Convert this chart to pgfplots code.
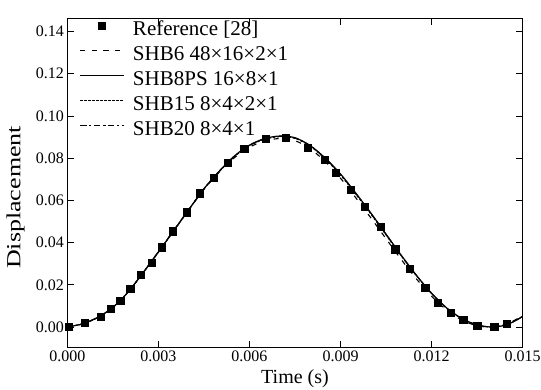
\documentclass[border=0pt]{standalone}
\usepackage{graphicx}
\usepackage{pgfplots}
\pgfplotsset{compat=1.18}
\usepackage{fontspec}
\setmainfont{Liberation Serif}
\begin{document}
\begin{tikzpicture}
\begin{axis}[
  scale only axis,
  width=455.4pt, height=329.4pt,
  xmin=0, xmax=0.015, ymin=-0.0098, ymax=0.1463,
  xtick={0,0.003,0.006,0.009,0.012,0.015},
  ytick={0,0.02,0.04,0.06,0.08,0.10,0.12,0.14},
  scaled ticks=false,
  x tick label style={/pgf/number format/.cd, fixed, fixed zerofill, precision=3},
  y tick label style={/pgf/number format/.cd, fixed, fixed zerofill, precision=2},
  /pgf/number format/assume math mode=true,
  tick label style={font=\fontsize{16}{19}\selectfont},
  xlabel={Time (s)}, ylabel={\scalebox{1.3}[1]{Displacement}},
  xlabel style={font=\fontsize{20}{24}\selectfont, anchor=center, at={(axis description cs:0.5,-0.095)}},
  ylabel style={font=\fontsize{20}{24}\selectfont, anchor=center, at={(axis description cs:-0.1137,0.456)}},
  tick align=inside, tick pos=both, major tick length=7pt,
  every tick/.style={black, line width=0.9pt},
  axis line style={line width=1.3pt},
  clip mode=individual,
  legend style={draw=none, fill=none, inner sep=0pt, outer sep=0pt,
    at={(axis description cs:0.0,1.0)}, anchor=north west, xshift=12.5pt, yshift=-3.4pt,
    font=\fontsize{21}{25}\selectfont, row sep=7pt,
    nodes={inner sep=0pt, outer sep=0pt, text height=14pt, text depth=4pt},
    /tikz/every odd column/.append style={column sep=9pt}},
  legend cell align=left,
  legend image code/.code={\draw[#1,mark repeat=2,mark phase=2] plot coordinates {(0pt,5pt) (21.5pt,5pt) (43pt,5pt)};},
]
\addplot[only marks, mark=square*, mark size=3.6pt, black] coordinates {
(0.00005,0) (0.00056,0.0020) (0.0011,0.0050) (0.00144,0.0088) (0.00174,0.0126)
(0.00207,0.0181) (0.00242,0.0247) (0.00278,0.0306) (0.00312,0.0378) (0.00347,0.0454)
(0.00393,0.0544) (0.00435,0.0634) (0.00481,0.0706) (0.00528,0.0779) (0.00583,0.0845)
(0.00653,0.0892) (0.00719,0.0898) (0.00792,0.0851) (0.00847,0.0794) (0.00885,0.0730)
(0.00933,0.0651) (0.0098,0.0569) (0.01031,0.0474) (0.0108,0.0369) (0.01129,0.0277)
(0.01179,0.0188) (0.0122,0.0115) (0.01264,0.0069) (0.01304,0.0033) (0.0135,0.0006)
(0.01406,0.0003) (0.01448,0.0016)};
\addlegendentry{Reference [28]}
\addplot[black, line width=1.1pt, dash pattern=on 5pt off 6.5pt, smooth] coordinates {
(0,0) (0.0005,0.0015) (0.001,0.0046) (0.0015,0.0094) (0.002,0.0166) (0.0025,0.0259)
(0.003,0.0357) (0.0035,0.0457) (0.004,0.0556) (0.0045,0.0652) (0.005,0.0733)
(0.0055,0.0802) (0.006,0.0852) (0.0065,0.0882) (0.007,0.0893) (0.0075,0.0883)
(0.008,0.0845) (0.0085,0.0783) (0.009,0.0705) (0.0095,0.0613) (0.010,0.0517)
(0.0105,0.0418) (0.011,0.0320) (0.0115,0.0228) (0.012,0.0146) (0.0125,0.0080)
(0.013,0.0033) (0.0135,0.0006) (0.014,0.0000) (0.0145,0.0015) (0.015,0.0055)};
\addlegendentry{SHB6 48×16×2×1}
\addplot[black, line width=1.2pt, smooth] coordinates {
(0,0) (0.0005,0.0015) (0.001,0.0045) (0.0015,0.0093) (0.002,0.0165) (0.0025,0.0258)
(0.003,0.0355) (0.0035,0.0455) (0.004,0.0556) (0.0045,0.0655) (0.005,0.0738)
(0.0055,0.0810) (0.006,0.0862) (0.0065,0.0893) (0.007,0.0905) (0.0075,0.0897)
(0.008,0.0860) (0.0085,0.0800) (0.009,0.0725) (0.0095,0.0635) (0.010,0.0540)
(0.0105,0.0440) (0.011,0.0340) (0.0115,0.0245) (0.012,0.0160) (0.0125,0.0090)
(0.013,0.0040) (0.0135,0.0010) (0.014,0.0000) (0.0145,0.0012) (0.015,0.0050)};
\addlegendentry{SHB8PS 16×8×1}
\addplot[black, line width=1.1pt, dash pattern=on 2.2pt off 1.8pt, smooth] coordinates {
(0,0) (0.0005,0.0015) (0.001,0.0045) (0.0015,0.0093) (0.002,0.0165) (0.0025,0.0258)
(0.003,0.0356) (0.0035,0.0456) (0.004,0.0556) (0.0045,0.0654) (0.005,0.0736)
(0.0055,0.0807) (0.006,0.0859) (0.0065,0.0890) (0.007,0.0902) (0.0075,0.0894)
(0.008,0.0857) (0.0085,0.0796) (0.009,0.0720) (0.0095,0.0630) (0.010,0.0535)
(0.0105,0.0436) (0.011,0.0337) (0.0115,0.0243) (0.012,0.0158) (0.0125,0.0088)
(0.013,0.0039) (0.0135,0.0009) (0.014,0.0000) (0.0145,0.0013) (0.015,0.0051)};
\addlegendentry{SHB15 8×4×2×1}
\addplot[black, line width=1.1pt, dash pattern=on 6pt off 3pt on 2pt off 3pt, smooth] coordinates {
(0,0) (0.0005,0.0015) (0.001,0.0045) (0.0015,0.0093) (0.002,0.0165) (0.0025,0.0258)
(0.003,0.0355) (0.0035,0.0455) (0.004,0.0555) (0.0045,0.0654) (0.005,0.0737)
(0.0055,0.0809) (0.006,0.0861) (0.0065,0.0892) (0.007,0.0904) (0.0075,0.0896)
(0.008,0.0859) (0.0085,0.0799) (0.009,0.0723) (0.0095,0.0633) (0.010,0.0538)
(0.0105,0.0438) (0.011,0.0339) (0.0115,0.0244) (0.012,0.0159) (0.0125,0.0089)
(0.013,0.0040) (0.0135,0.0010) (0.014,0.0000) (0.0145,0.0012) (0.015,0.0050)};
\addlegendentry{SHB20 8×4×1}
\coordinate (bl) at (rel axis cs:0,0);
\coordinate (tr) at (rel axis cs:1,1);
\end{axis}
\pgfresetboundingbox
\path ([xshift=-67.3pt,yshift=-42.3pt]bl) rectangle ([xshift=18.3pt,yshift=18.3pt]tr);
\end{tikzpicture}
\end{document}
